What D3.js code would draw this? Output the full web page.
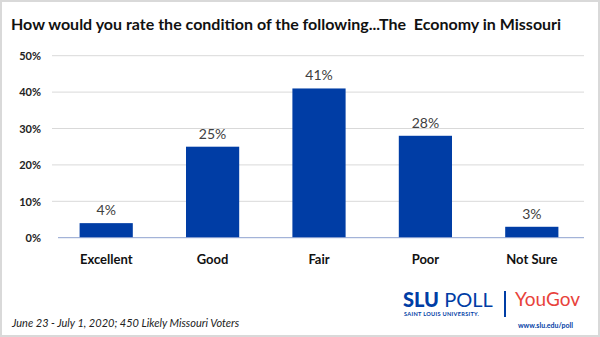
<!DOCTYPE html>
<html>
<head>
<meta charset="utf-8">
<script src="https://cdn.jsdelivr.net/npm/d3@7"></script>
<style>
  html, body { margin: 0; padding: 0; background: #fff; }
  svg { display: block; }
  .pre { white-space: pre; }
</style>
</head>
<body>
<svg id="chart" width="600" height="337"></svg>
<script>
const categories = ["Excellent", "Good", "Fair", "Poor", "Not Sure"];
const values = [4, 25, 41, 28, 3];
const yTicks = [0, 10, 20, 30, 40, 50];

const title = "How would you rate the condition of the following...The  Economy in Missouri";
const footnote = "June 23 - July 1, 2020; 450 Likely Missouri Voters";

const svg = d3.select("#chart");
const W = 600, H = 337;
const font = "Lato, 'Open Sans', sans-serif";

// frame
svg.append("rect").attr("x", 1).attr("y", 1).attr("width", W - 2).attr("height", H - 2)
  .attr("fill", "#fff").attr("stroke", "#d9d9d9").attr("stroke-width", 2);

svg.append("text").attr("class", "pre").attr("x", 11).attr("y", 30)
  .attr("font-family", font).attr("font-weight", 700).attr("font-size", 16)
  .attr("fill", "#111").text(title);

const x = d3.scaleBand().domain(categories).range([53, 585]).paddingInner(0.5).paddingOuter(0.25);
const y = d3.scaleLinear().domain([0, 50]).range([237.7, 55.7]);

// gridlines
svg.append("g").selectAll("line").data(yTicks.filter(t => t > 0)).join("line")
  .attr("x1", 52).attr("x2", 584)
  .attr("y1", d => y(d)).attr("y2", d => y(d))
  .attr("stroke", "#d9d9d9").attr("stroke-width", 1);

// y axis labels
const yAxis = d3.axisLeft(y).tickValues(yTicks).tickFormat(d => d + "%").tickSize(0).tickPadding(0);
const gy = svg.append("g").attr("transform", "translate(41,0)").call(yAxis);
gy.select(".domain").remove();
gy.selectAll("text").attr("font-family", font).attr("font-weight", 700)
  .attr("font-size", 11).attr("fill", "#222").attr("dy", "0.35em");

// bars
svg.append("g").selectAll("rect").data(values).join("rect")
  .attr("x", (d, i) => x(categories[i]))
  .attr("width", x.bandwidth())
  .attr("y", d => y(d))
  .attr("height", d => y(0) - y(d))
  .attr("fill", "#003DA5");

// baseline
svg.append("line").attr("x1", 58).attr("x2", 584).attr("y1", y(0)).attr("y2", y(0))
  .attr("stroke", "#8ea2cf").attr("stroke-width", 1);

// value labels
svg.append("g").selectAll("text").data(values).join("text")
  .attr("x", (d, i) => x(categories[i]) + x.bandwidth() / 2)
  .attr("y", d => y(d) - 8)
  .attr("text-anchor", "middle")
  .attr("font-family", font).attr("font-size", 14).attr("fill", "#404040")
  .text(d => d + "%");

// category axis
const xAxis = d3.axisBottom(x).tickSize(0).tickPadding(0);
const gx = svg.append("g").attr("transform", `translate(0,${y(0) + 26})`).call(xAxis);
gx.select(".domain").remove();
gx.selectAll("text").attr("font-family", font).attr("font-weight", 700)
  .attr("font-size", 13).attr("fill", "#111").attr("dy", 0);

// footnote
svg.append("text").attr("x", 12).attr("y", 327)
  .attr("font-family", font).attr("font-style", "italic").attr("font-size", 11)
  .attr("fill", "#222").text(footnote);

// brand block
const brand = svg.append("g");
brand.append("text").attr("x", 403).attr("y", 307)
  .attr("font-family", font).attr("font-size", 20).attr("fill", "#003DA5")
  .html('<tspan font-weight="900">SLU</tspan><tspan font-weight="400"> POLL</tspan>');
brand.append("text").attr("x", 404).attr("y", 316)
  .attr("font-family", font).attr("font-weight", 700).attr("font-size", 5.6)
  .attr("fill", "#003DA5").attr("letter-spacing", 0.3).text("SAINT LOUIS UNIVERSITY.");
brand.append("line").attr("x1", 505).attr("x2", 505).attr("y1", 291).attr("y2", 317)
  .attr("stroke", "#003DA5").attr("stroke-width", 2);
brand.append("text").attr("x", 515).attr("y", 306)
  .attr("font-family", font).attr("font-weight", 400).attr("font-size", 19)
  .attr("fill", "#e8423b").text("YouGov");
brand.append("text").attr("x", 518).attr("y", 328)
  .attr("font-family", font).attr("font-weight", 700).attr("font-size", 7)
  .attr("fill", "#003DA5").text("www.slu.edu/poll");
</script>
</body>
</html>
